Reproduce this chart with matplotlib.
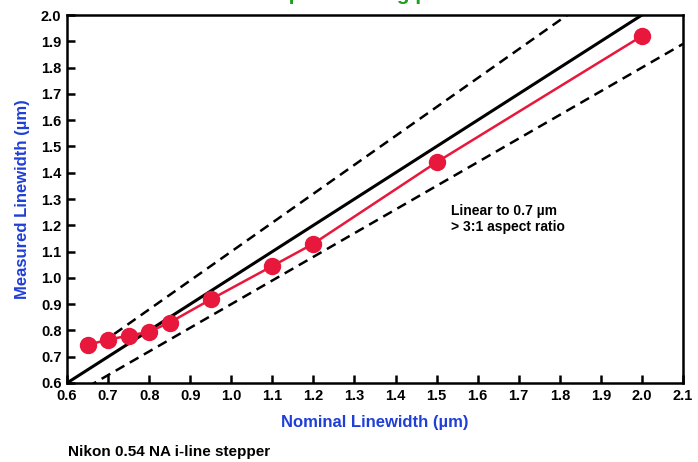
import numpy as np
import matplotlib.pyplot as plt

plt.rcParams['font.family'] = ['Liberation Sans', 'DejaVu Sans']
plt.rcParams['font.weight'] = 'bold'

# data
nominal = [0.65, 0.70, 0.75, 0.80, 0.85, 0.95, 1.10, 1.20, 1.50, 2.00]
measured = [0.745, 0.765, 0.78, 0.795, 0.83, 0.918, 1.045, 1.13, 1.44, 1.92]
ideal_x = [0.6, 2.0]
band_x = [0.65, 2.1]
band_factors = [1.1, 0.9]

x_ticks = [0.6, 0.7, 0.8, 0.9, 1.0, 1.1, 1.2, 1.3, 1.4, 1.5, 1.6, 1.7, 1.8, 1.9, 2.0, 2.1]
y_ticks = [0.6, 0.7, 0.8, 0.9, 1.0, 1.1, 1.2, 1.3, 1.4, 1.5, 1.6, 1.7, 1.8, 1.9, 2.0]

red = '#e8173c'
blue = '#1f3fd6'

fig = plt.figure(figsize=(6.98, 4.62), dpi=100)
ax = fig.add_axes([0.096, 0.171, 0.8825, 0.7965])

ax.plot(ideal_x, ideal_x, color='black', lw=2.2)
for f in band_factors:
    bx = np.array(band_x)
    ax.plot(bx, bx * f, color='black', lw=1.8, ls=(0, (4, 2.5)))

ax.plot(nominal, measured, color=red, lw=1.8, marker='o', ms=11.5,
        markerfacecolor=red, markeredgecolor=red, zorder=5)

ax.set_xlim(0.6, 2.1)
ax.set_ylim(0.6, 2.0)
ax.set_xticks(x_ticks)
ax.set_yticks(y_ticks)
ax.set_xticklabels([f'{v:.1f}' for v in x_ticks])
ax.set_yticklabels([f'{v:.1f}' for v in y_ticks])
ax.tick_params(direction='in', length=6, width=1.8, labelsize=10.5, pad=4,
               top=False, right=False)
for s in ax.spines.values():
    s.set_linewidth(1.8)

ax.set_xlabel('Nominal Linewidth (µm)', color=blue, fontsize=12, fontweight='bold', labelpad=9)
ax.set_ylabel('Measured Linewidth (µm)', color=blue, fontsize=12, fontweight='bold', labelpad=8)

ax.text(1.535, 1.225, 'Linear to 0.7 µm\n> 3:1 aspect ratio', fontsize=10,
        fontweight='bold', va='center', ha='left', linespacing=1.15)

fig.text(0.097, 0.012, 'Nikon 0.54 NA i-line stepper', fontsize=11, fontweight='bold')

# title mostly clipped off the top of the figure, as in the source
fig.text(0.54, 1.012, 'Dense Lines and Spaces using positive Resist Process',
         color='#1aa01a', fontsize=15, fontweight='bold', ha='center', va='center')

fig.savefig('out.png', dpi=100)
